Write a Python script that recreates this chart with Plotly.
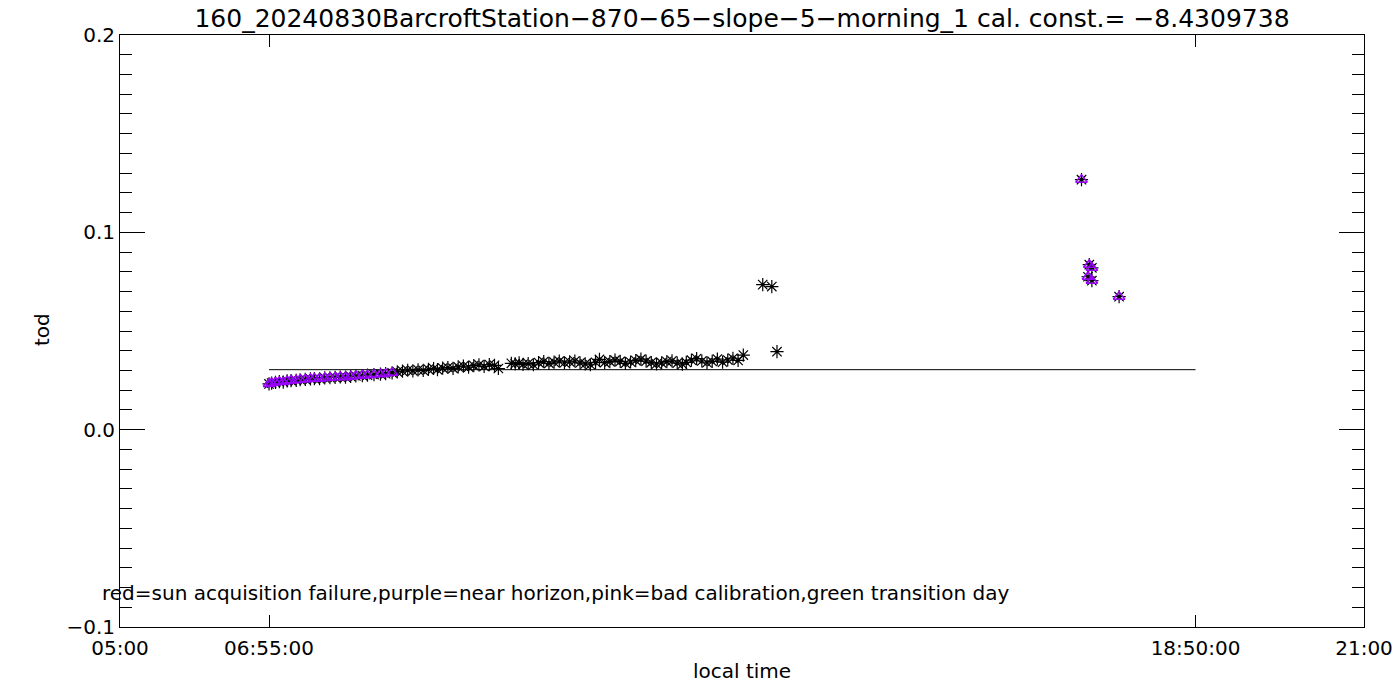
import plotly.graph_objects as go

# ---- data ----
morning_times = ["06:55", "06:57", "07:00", "07:03", "07:06", "07:09", "07:12", "07:16",
                 "07:19", "07:23", "07:27", "07:30", "07:34", "07:38", "07:42", "07:46",
                 "07:50", "07:54", "07:58", "08:02", "08:07", "08:11", "08:16", "08:21",
                 "08:25", "08:30"]
morning_tod = [0.0232, 0.0236, 0.0240, 0.0243, 0.0241, 0.0247, 0.0249, 0.0250,
               0.0253, 0.0255, 0.0257, 0.0259, 0.0258, 0.0262, 0.0263, 0.0265,
               0.0267, 0.0266, 0.0270, 0.0272, 0.0274, 0.0276, 0.0279, 0.0281,
               0.0284, 0.0288]

midday_times = ["08:34", "08:38", "08:42", "08:46", "08:50", "08:54", "08:58", "09:02",
                "09:05", "09:09", "09:13", "09:17", "09:21", "09:25", "09:29", "09:33",
                "09:37", "09:41", "09:45", "09:49", "09:52",
                "10:02", "10:05", "10:08", "10:11", "10:15", "10:19", "10:23", "10:27",
                "10:31", "10:35", "10:39", "10:43", "10:47", "10:51", "10:55", "10:59",
                "11:03", "11:07", "11:10", "11:14", "11:18", "11:22", "11:26", "11:30",
                "11:34", "11:38", "11:42", "11:46", "11:50", "11:54", "11:58", "12:02",
                "12:06", "12:10", "12:14", "12:17", "12:21", "12:25", "12:29", "12:33",
                "12:37", "12:41", "12:45", "12:49", "12:53", "12:57", "13:01",
                "13:16", "13:23", "13:27"]
midday_tod = [0.0293, 0.0297, 0.0301, 0.0298, 0.0303, 0.0300, 0.0306, 0.0310,
              0.0304, 0.0312, 0.0315, 0.0311, 0.0318, 0.0322, 0.0317, 0.0325,
              0.0328, 0.0321, 0.0330, 0.0326, 0.0310,
              0.0336, 0.0333, 0.0338, 0.0331, 0.0335, 0.0329, 0.0340, 0.0345,
              0.0336, 0.0342, 0.0347, 0.0339, 0.0344, 0.0348, 0.0338, 0.0333,
              0.0329, 0.0341, 0.0356, 0.0340, 0.0345, 0.0352, 0.0346, 0.0336,
              0.0343, 0.0350, 0.0357, 0.0347, 0.0340, 0.0333, 0.0338, 0.0345,
              0.0349, 0.0337, 0.0332, 0.0341, 0.0352, 0.0360, 0.0348, 0.0339,
              0.0346, 0.0358, 0.0342, 0.0353, 0.0362, 0.0351, 0.0378,
              0.0735, 0.0725, 0.0395]

evening_times = ["17:22", "17:28", "17:30", "17:27", "17:30", "17:51"]
evening_tod = [0.1267, 0.0836, 0.0820, 0.0775, 0.0755, 0.0674]

ref_line_times = ["06:55", "18:50"]
ref_line_tod = [0.0304, 0.0304]

x_tick_labels = ["05:00", "06:55:00", "18:50:00", "21:00"]
y_tick_values = [-0.1, 0.0, 0.1, 0.2]

title_text = "160_20240830BarcroftStation\u2212870\u221265\u2212slope\u22125\u2212morning_1 cal. const.= \u22128.4309738"
note_text = "red=sun acquisition failure,purple=near horizon,pink=bad calibration,green transition day"


def hours(s):
    parts = s.split(":")
    h = int(parts[0]) + int(parts[1]) / 60.0
    if len(parts) > 2:
        h += int(parts[2]) / 3600.0
    return h


all_times = [hours(t) for t in morning_times + midday_times + evening_times]
all_tod = morning_tod + midday_tod + evening_tod
purple_times = [hours(t) for t in morning_times + evening_times]
purple_tod = morning_tod + evening_tod

FONT = "DejaVu Sans"
PURPLE = "#9a00ff"
W, H = 1400, 700

fig = go.Figure()
fig.add_trace(go.Scatter(
    x=[hours(t) for t in ref_line_times], y=ref_line_tod, mode="lines",
    line=dict(color="black", width=1), hoverinfo="skip"))
fig.add_trace(go.Scatter(
    x=all_times, y=all_tod, mode="markers",
    marker=dict(symbol="asterisk-open", size=11, color="black",
                line=dict(color="black", width=1.2))))
fig.add_trace(go.Scatter(
    x=purple_times, y=purple_tod, mode="markers",
    marker=dict(symbol="triangle-up-open", size=10, color=PURPLE,
                line=dict(color=PURPLE, width=1.5))))

fig.update_layout(
    width=W, height=H,
    margin=dict(l=120, r=36, t=35, b=73, autoexpand=False),
    paper_bgcolor="white", plot_bgcolor="white",
    showlegend=False,
    font=dict(family=FONT, size=20, color="black"),
    title=dict(text=title_text, x=0.5, xref="paper", xanchor="center",
               y=1 - 18 / H, yref="container", yanchor="middle",
               font=dict(family=FONT, size=25, color="black")),
)

fig.update_xaxes(
    range=[5, 21], showgrid=False, zeroline=False, automargin=False,
    showline=True, linecolor="black", linewidth=1, mirror="ticks",
    ticks="inside", ticklen=12, tickcolor="black", tickwidth=1,
    tickmode="array", tickvals=[hours(t) for t in x_tick_labels],
    ticktext=x_tick_labels, ticklabelstandoff=3,
)
fig.update_yaxes(
    range=[-0.1, 0.2], showgrid=False, zeroline=False, automargin=False,
    showline=True, linecolor="black", linewidth=1, mirror="ticks",
    ticks="inside", ticklen=25, tickcolor="black", tickwidth=1,
    tickmode="array", tickvals=y_tick_values, tickformat=".1f",
    minor=dict(ticks="inside", ticklen=12, dtick=0.01, tickcolor="black",
               tickwidth=1, showgrid=False),
)

fig.add_annotation(text="tod", textangle=-90, xref="paper", yref="paper",
                   x=(42 - 120) / 1244, y=(627 - 330) / 592,
                   xanchor="center", yanchor="middle", showarrow=False,
                   font=dict(family=FONT, size=20, color="black"))
fig.add_annotation(text="local time", xref="paper", yref="paper",
                   x=0.5, y=(627 - 671) / 592,
                   xanchor="center", yanchor="middle", showarrow=False,
                   font=dict(family=FONT, size=20, color="black"))
fig.add_annotation(text=note_text, xref="paper", yref="paper",
                   x=(100 - 120) / 1244, y=(627 - 593) / 592,
                   xanchor="left", yanchor="middle", showarrow=False,
                   font=dict(family=FONT, size=20, color="black"))

fig.write_html("out.html", config={"displayModeBar": False},
               post_script="document.body.style.margin='0';document.body.style.overflow='hidden';")
